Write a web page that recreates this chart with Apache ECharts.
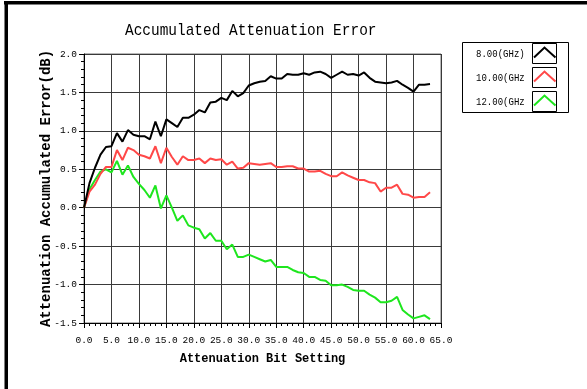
<!DOCTYPE html>
<html>
<head>
<meta charset="utf-8">
<script src="https://cdn.jsdelivr.net/npm/echarts@6/dist/echarts.min.js"></script>
<style>
html,body{margin:0;padding:0;background:#fff;}
#chart{width:587px;height:389px;}
</style>
</head>
<body>
<div id="chart"></div>
<script>
// ---- data ----
var bitSettings = [0,1,2,3,4,5,6,7,8,9,10,11,12,13,14,15,16,17,18,19,20,21,22,23,24,25,26,27,28,29,30,31,32,33,34,35,36,37,38,39,40,41,42,43,44,45,46,47,48,49,50,51,52,53,54,55,56,57,58,59,60,61,62,63];
var err8GHz = [0.00,0.32,0.52,0.69,0.79,0.80,0.97,0.86,1.01,0.95,0.93,0.93,0.89,1.12,0.93,1.15,1.10,1.05,1.17,1.17,1.21,1.27,1.24,1.37,1.38,1.43,1.40,1.52,1.45,1.49,1.59,1.62,1.64,1.65,1.71,1.68,1.68,1.74,1.73,1.73,1.75,1.73,1.76,1.77,1.74,1.69,1.73,1.77,1.73,1.74,1.72,1.76,1.69,1.64,1.63,1.62,1.63,1.65,1.60,1.56,1.51,1.60,1.60,1.61];
var err10GHz = [0.00,0.21,0.30,0.44,0.53,0.53,0.75,0.62,0.78,0.75,0.69,0.67,0.64,0.80,0.58,0.78,0.66,0.56,0.67,0.62,0.62,0.64,0.58,0.64,0.62,0.63,0.56,0.60,0.51,0.52,0.58,0.57,0.56,0.57,0.58,0.53,0.53,0.54,0.54,0.51,0.51,0.47,0.47,0.48,0.44,0.41,0.41,0.46,0.42,0.39,0.36,0.36,0.33,0.32,0.21,0.26,0.26,0.30,0.18,0.17,0.13,0.14,0.14,0.20];
var err12GHz = [0.00,0.24,0.36,0.47,0.50,0.46,0.61,0.43,0.55,0.40,0.31,0.23,0.13,0.29,-0.01,0.16,0.00,-0.17,-0.10,-0.23,-0.26,-0.28,-0.40,-0.33,-0.43,-0.43,-0.54,-0.48,-0.64,-0.64,-0.61,-0.64,-0.67,-0.70,-0.68,-0.77,-0.77,-0.77,-0.81,-0.84,-0.85,-0.90,-0.90,-0.94,-0.95,-1.01,-1.01,-1.00,-1.03,-1.07,-1.08,-1.08,-1.13,-1.17,-1.23,-1.23,-1.21,-1.16,-1.33,-1.39,-1.44,-1.42,-1.40,-1.45];
var seriesNames = ['8.00(GHz)', '10.00(GHz', '12.00(GHz'];
var seriesColors = ['#000000', '#ff4848', '#1ee61e'];
var chartTitle = 'Accumulated Attenuation Error';
var xName = 'Attenuation Bit Setting';
var yName = 'Attenuation Accumulated Error(dB)';

// ---- chart ----
var chart = echarts.init(document.getElementById('chart'), null, {renderer: 'canvas'});
var allSeries = [err8GHz, err10GHz, err12GHz];
function pairs(ys) { return bitSettings.map(function (x, i) { return [x, ys[i]]; }); }

var mono = '"Liberation Mono", "DejaVu Sans Mono", monospace';

// legend drawn as graphic elements (text + framed caret icon)
var legendGraphics = [{
  type: 'rect', shape: {x: 462.5, y: 42.5, width: 106, height: 70},
  style: {fill: '#fff', stroke: '#000', lineWidth: 1}
}];
seriesNames.forEach(function (name, i) {
  var top = 43.5 + i * 24;
  legendGraphics.push({
    type: 'text', x: 476, y: top + 10.5, scaleX: 0.82,
    style: {text: name, font: '11px ' + mono, fill: '#000', textVerticalAlign: 'middle', textBaseline: 'middle'}
  });
  legendGraphics.push({
    type: 'rect', shape: {x: 532.5, y: top, width: 24, height: 20},
    style: {fill: '#fff', stroke: '#000', lineWidth: 1}
  });
  legendGraphics.push({
    type: 'polyline', shape: {points: [[534, top + 14], [544.5, top + 4], [555.5, top + 14]]},
    style: {stroke: seriesColors[i], lineWidth: 2, fill: null}
  });
});

var option = {
  backgroundColor: '#ffffff',
  animation: false,
  grid: {left: 84, right: 146, top: 54, bottom: 66, show: true, borderColor: '#707070', borderWidth: 1},
  xAxis: {
    type: 'value', min: 0, max: 65, interval: 5,
    name: xName, nameLocation: 'middle', nameGap: 30, nameMoveOverlap: false,
    nameTextStyle: {fontFamily: mono, fontSize: 12, fontWeight: 'bold', color: '#000'},
    axisLine: {show: true, onZero: false, lineStyle: {color: '#000', width: 1}},
    axisTick: {show: true, inside: false, length: 5, lineStyle: {color: '#000'}},
    minorTick: {show: true, splitNumber: 5, length: 3, lineStyle: {color: '#000'}},
    axisLabel: {fontFamily: mono, fontSize: 9.5, color: '#000', margin: 12, formatter: function (v) { return v.toFixed(1); }},
    splitLine: {show: true, lineStyle: {color: '#3a3a3a', width: 1}}
  },
  yAxis: {
    type: 'value', min: -1.5, max: 2.0, interval: 0.5,
    name: yName, nameLocation: 'middle', nameGap: 31, nameRotate: 90, nameMoveOverlap: false,
    nameTextStyle: {fontFamily: mono, fontSize: 14, fontWeight: 'bold', color: '#000'},
    axisLine: {show: true, onZero: false, lineStyle: {color: '#000', width: 1}},
    axisTick: {show: true, inside: false, length: 5, lineStyle: {color: '#000'}},
    minorTick: {show: true, splitNumber: 5, length: 3, lineStyle: {color: '#000'}},
    axisLabel: {fontFamily: mono, fontSize: 9.5, color: '#000', margin: 7, formatter: function (v) { return v.toFixed(1); }},
    splitLine: {show: true, lineStyle: {color: '#3a3a3a', width: 1}}
  },
  series: allSeries.map(function (ys, i) {
    return {
      name: seriesNames[i], type: 'line', data: pairs(ys),
      showSymbol: false, symbol: 'none', smooth: false,
      lineStyle: {color: seriesColors[i], width: 2},
      itemStyle: {color: seriesColors[i]}, z: 5 - i
    };
  }),
  graphic: [
    {type: 'rect', shape: {x: 4, y: 1, width: 583, height: 3.5}, style: {fill: '#000'}},
    {type: 'rect', shape: {x: 4.5, y: 1, width: 3.5, height: 388}, style: {fill: '#000'}},
    {type: 'text', x: 125, y: 30, scaleX: 0.85,
     style: {text: chartTitle, font: '17px ' + mono, fill: '#000', textVerticalAlign: 'middle', textBaseline: 'middle'}}
  ].concat(legendGraphics)
};
chart.setOption(option);
</script>
</body>
</html>
